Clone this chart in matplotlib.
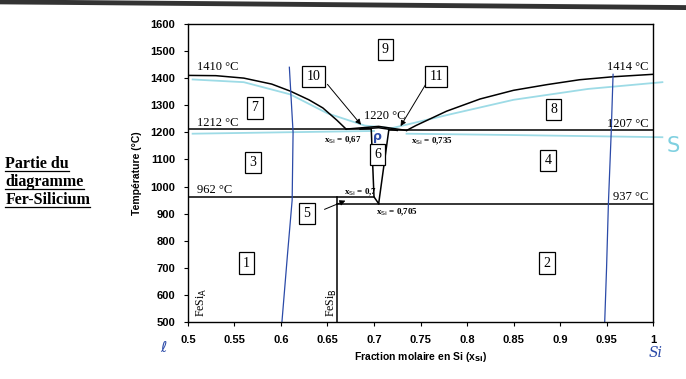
import matplotlib.pyplot as plt
from matplotlib.lines import Line2D

# liquidus curves
liq_left_x = [0.50, 0.53, 0.56, 0.59, 0.61, 0.63, 0.645, 0.66, 0.67]
liq_left_T = [1410, 1409, 1400, 1378, 1352, 1320, 1290, 1245, 1212]
liq_right_x = [0.735, 0.745, 0.778, 0.814, 0.85, 0.886, 0.921, 0.957, 1.0]
liq_right_T = [1207, 1225, 1278, 1323, 1355, 1376, 1394, 1405, 1414]

# small congruent peak around beta phase
peak_up_x = [0.67, 0.705, 0.735]
peak_up_T = [1212, 1222, 1207]
peak_lo_x = [0.685, 0.705, 0.725]
peak_lo_T = [1212, 1217, 1207]

# beta (region 6) boundaries
beta_left_x = [0.697, 0.700, 0.705]
beta_left_T = [1214, 962, 937]
beta_right_x = [0.716, 0.705]
beta_right_T = [1211, 937]

# invariant lines
T_eut_left, T_eut_right = 1212, 1207
T_eutectoid, T_eutectoid2 = 962, 937
x_fesi_b = 0.66

# handwritten blue verticals
blue1_x = [0.609, 0.613, 0.612, 0.607, 0.601]
blue1_T = [1440, 1200, 950, 750, 500]
blue2_x = [0.957, 0.955, 0.952, 0.950, 0.948]
blue2_T = [1414, 1200, 940, 700, 500]

# region boxes
box_ids = ['1', '2', '3', '4', '5', '6', '7', '8', '9', '10', '11']
box_x = [0.563, 0.886, 0.570, 0.887, 0.628, 0.704, 0.572, 0.893, 0.712, 0.635, 0.767]
box_T = [718, 718, 1090, 1095, 900, 1118, 1290, 1285, 1505, 1405, 1405]

xticks = [0.5, 0.55, 0.6, 0.65, 0.7, 0.75, 0.8, 0.85, 0.9, 0.95, 1.0]
xtick_labels = ['0.5', '0.55', '0.6', '0.65', '0.7', '0.75', '0.8', '0.85', '0.9', '0.95', '1']
yticks = list(range(500, 1700, 100))

fig = plt.figure(figsize=(6.86, 3.79), dpi=100)
ax = fig.add_axes([0.274, 0.150, 0.678, 0.787])

lw = 1.1
k = 'black'
cyan = '#9ddbe6'
blue = '#2b4aa8'

# cyan highlighter strokes
ax.plot([0.505, 0.56, 0.61, 0.65, 0.69, 0.72], [1395, 1385, 1340, 1270, 1225, 1215], color=cyan, lw=1.3, zorder=1)
ax.plot([0.505, 0.60, 0.70], [1195, 1200, 1205], color=cyan, lw=1.3, zorder=1)
ax.plot([0.715, 0.78, 0.85, 0.93, 1.01], [1212, 1265, 1320, 1360, 1385], color=cyan, lw=1.3, zorder=1, clip_on=False)
ax.plot([0.735, 0.85, 1.01], [1195, 1190, 1182], color=cyan, lw=1.3, zorder=1, clip_on=False)

ax.plot(liq_left_x, liq_left_T, color=k, lw=lw)
ax.plot(liq_right_x, liq_right_T, color=k, lw=lw)
ax.plot(peak_up_x, peak_up_T, color=k, lw=lw)
ax.plot(peak_lo_x, peak_lo_T, color=k, lw=lw)
ax.plot(beta_left_x, beta_left_T, color=k, lw=lw)
ax.plot(beta_right_x, beta_right_T, color=k, lw=lw)
ax.plot([0.5, beta_left_x[0]], [T_eut_left, T_eut_left], color=k, lw=lw)
ax.plot([beta_right_x[0], 1.0], [T_eut_right, T_eut_right], color=k, lw=lw)
ax.plot([0.5, beta_left_x[1]], [T_eutectoid, T_eutectoid], color=k, lw=lw)
ax.plot([x_fesi_b, 1.0], [T_eutectoid2, T_eutectoid2], color=k, lw=lw)
ax.plot([x_fesi_b, x_fesi_b], [500, T_eutectoid], color=k, lw=lw)

ax.plot(blue1_x, blue1_T, color=blue, lw=0.9)
ax.plot(blue2_x, blue2_T, color=blue, lw=0.9)

ax.set_xlim(0.5, 1.0)
ax.set_ylim(500, 1600)
ax.set_xticks(xticks)
ax.set_xticklabels(xtick_labels)
ax.set_yticks(yticks)
for s in ax.spines.values():
    s.set_linewidth(1.0)
ax.tick_params(direction='out', length=3, width=0.8, labelsize=8, pad=6)
for lab in ax.get_xticklabels() + ax.get_yticklabels():
    lab.set_fontweight('bold')
    lab.set_family('Liberation Sans')

ax.set_ylabel('Température (°C)', fontsize=7.5, fontweight='bold', family='Liberation Sans', labelpad=6)
ax.set_xlabel('Fraction molaire en Si (x$_{\\mathbf{Si}}$)', fontsize=7.5, fontweight='bold',
              family='Liberation Sans', labelpad=4)

# region boxes
for lab, bx, bt in zip(box_ids, box_x, box_T):
    ax.text(bx, bt, lab, ha='center', va='center', fontsize=10, family='Liberation Serif',
            bbox=dict(boxstyle='square,pad=0.3', fc='white', ec='black', lw=0.9))

serif = 'Liberation Serif'
ax.text(0.51, 1418, '1410 °C', fontsize=9, family=serif, va='bottom')
ax.text(0.995, 1418, '1414 °C', fontsize=9, family=serif, va='bottom', ha='right')
ax.text(0.51, 1214, '1212 °C', fontsize=9, family=serif, va='bottom')
ax.text(0.995, 1209, '1207 °C', fontsize=9, family=serif, va='bottom', ha='right')
ax.text(0.51, 964, '962 °C', fontsize=9, family=serif, va='bottom')
ax.text(0.995, 939, '937 °C', fontsize=9, family=serif, va='bottom', ha='right')
ax.text(0.712, 1238, '1220 °C', fontsize=9, family=serif, va='bottom', ha='center')

ax.text(0.667, 1170, 'x$_{\\mathrm{Si}}$ = 0,67', fontsize=6.5, family=serif, fontweight='bold', ha='center', va='center')
ax.text(0.762, 1168, 'x$_{\\mathrm{Si}}$ = 0,735', fontsize=6.5, family=serif, fontweight='bold', ha='center', va='center')
ax.text(0.686, 980, 'x$_{\\mathrm{Si}}$ = 0,7', fontsize=6.5, family=serif, fontweight='bold', ha='center', va='center')
ax.text(0.725, 905, 'x$_{\\mathrm{Si}}$ = 0,705', fontsize=6.5, family=serif, fontweight='bold', ha='center', va='center')

ax.text(0.704, 1185, 'ρ', fontsize=9, color=blue, ha='center', va='center', fontweight='bold')

ax.text(0.507, 520, 'FeSi$_\\mathrm{A}$', rotation=90, fontsize=8.5, family=serif, va='bottom', ha='left')
ax.text(0.647, 520, 'FeSi$_\\mathrm{B}$', rotation=90, fontsize=8.5, family=serif, va='bottom', ha='left')

# arrows
arw = dict(arrowstyle='-|>', color='black', lw=0.7, mutation_scale=8)
ax.annotate('', xy=(0.688, 1220), xytext=(0.648, 1385), arrowprops=arw)
ax.annotate('', xy=(0.727, 1214), xytext=(0.757, 1385), arrowprops=arw)
ax.annotate('', xy=(0.672, 952), xytext=(0.644, 912), arrowprops=arw)

# handwritten marks
fig.text(0.233, 0.072, 'ℓ', color=blue, fontsize=11, family=['DejaVu Sans'])
fig.text(0.946, 0.058, 'Si', color=blue, fontsize=10, family=['DejaVu Serif'], style='italic')
fig.text(0.972, 0.60, 'S', color='#7fd0e0', fontsize=15, family=['DejaVu Sans'])

# left title, underlined
title_lines = ['Partie du', 'diagramme', 'Fer-Silicium']
title_y = [0.556, 0.509, 0.462]
fig.canvas.draw()
rend = fig.canvas.get_renderer()
for line, ty in zip(title_lines, title_y):
    t = fig.text(0.008, ty, line, fontsize=11.5, fontweight='bold', family=serif, va='baseline')
    bb = t.get_window_extent(rend)
    x0, x1 = bb.x0 / fig.bbox.width, bb.x1 / fig.bbox.width
    fig.add_artist(Line2D([x0, x1], [ty - 0.008, ty - 0.008], color='black', lw=0.9))

# scan edge across the top
fig.add_artist(Line2D([0.0, 1.0], [0.995, 0.980], color='#333333', lw=3.5))

fig.savefig('out.png', dpi=100)
